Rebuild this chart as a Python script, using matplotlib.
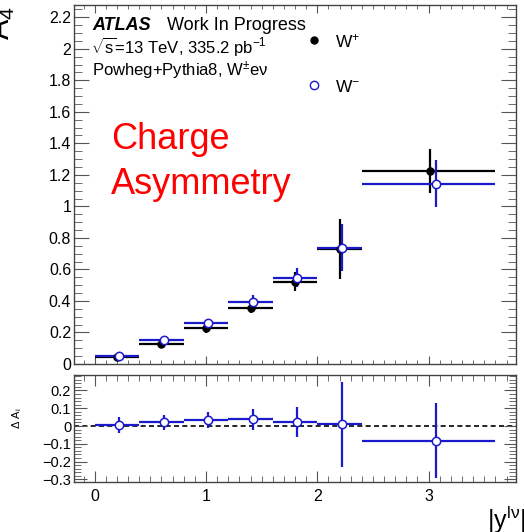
import numpy as np
import matplotlib
matplotlib.use("Agg")
import matplotlib.pyplot as plt
from matplotlib.ticker import MultipleLocator, FuncFormatter

plt.rcParams["font.family"] = ["Liberation Sans", "DejaVu Sans"]
plt.rcParams["mathtext.fontset"] = "custom"
plt.rcParams["mathtext.rm"] = "Liberation Sans"
plt.rcParams["mathtext.it"] = "Liberation Sans"

# bins in |y^lv|
bin_lo = np.array([0.0, 0.4, 0.8, 1.2, 1.6, 2.0, 2.4])
bin_hi = np.array([0.4, 0.8, 1.2, 1.6, 2.0, 2.4, 3.6])

# W+ (black)
x_wp = np.array([0.20, 0.60, 1.00, 1.40, 1.80, 2.20, 3.01])
a4_wp = np.array([0.045, 0.126, 0.227, 0.354, 0.523, 0.729, 1.223])
err_wp = np.array([0.02, 0.025, 0.03, 0.03, 0.058, 0.19, 0.14])

# W- (blue)
x_wm = np.array([0.22, 0.62, 1.02, 1.42, 1.82, 2.22, 3.07])
a4_wm = np.array([0.052, 0.151, 0.263, 0.396, 0.548, 0.738, 1.145])
err_wm = np.array([0.02, 0.02, 0.02, 0.04, 0.058, 0.15, 0.15])

# difference panel
dA = np.array([0.006, 0.020, 0.034, 0.037, 0.024, 0.009, -0.083])
err_dA = np.array([0.045, 0.04, 0.045, 0.058, 0.085, 0.24, 0.21])

BLUE = "#1a1acc"
W, H = 524, 532

def fx(p):
    return p / W

def fy(p):
    return 1 - p / H

def fmt(v, pos):
    if abs(v) < 1e-9:
        return "0"
    return f"{v:.10g}".replace("-", "\u2212")

fig = plt.figure(figsize=(W / 100, H / 100), dpi=100)
ax = fig.add_axes([fx(74), fy(364), fx(516) - fx(74), fy(5) - fy(364)])
ax2 = fig.add_axes([fx(74), fy(482), fx(516) - fx(74), fy(375) - fy(482)], sharex=ax)

def bars(a, x, y, ey, col, face):
    a.errorbar(x, y, xerr=[x - bin_lo, bin_hi - x], yerr=ey, fmt="none",
               ecolor=col, elinewidth=1.6, capsize=0, zorder=2)
    a.plot(x, y, "o", ms=5 if face == col else 6, mfc=face, mec=col, mew=1.1,
           zorder=3, ls="none")

bars(ax, x_wp, a4_wp, err_wp, "black", "black")
bars(ax, x_wm, a4_wm, err_wm, BLUE, "white")
bars(ax2, x_wm, dA, err_dA, BLUE, "white")
ax2.axhline(0, color="black", ls=(0, (3, 2)), lw=1.2, zorder=1)

ax.set_xlim(-0.186, 3.785)
ax.set_ylim(0, 2.278)
ax2.set_ylim(-0.315, 0.287)

ax.yaxis.set_major_locator(MultipleLocator(0.2))
ax.yaxis.set_minor_locator(MultipleLocator(0.05))
ax2.xaxis.set_major_locator(MultipleLocator(1))
ax2.xaxis.set_minor_locator(MultipleLocator(0.1))
ax2.yaxis.set_major_locator(MultipleLocator(0.1))
ax2.yaxis.set_minor_locator(MultipleLocator(0.02))

for a in (ax, ax2):
    for s in a.spines.values():
        s.set_color("#444444")
        s.set_linewidth(1.0)
    a.tick_params(which="both", direction="in", top=True, right=True,
                  color="#555555", labelsize=11.5, pad=2)
    a.yaxis.set_major_formatter(FuncFormatter(fmt))
    a.xaxis.set_major_formatter(FuncFormatter(fmt))
ax.tick_params(axis="y", which="major", length=11)
ax.tick_params(axis="y", which="minor", length=5.5)
ax.tick_params(axis="x", which="major", length=6)
ax.tick_params(axis="x", which="minor", length=3)
ax.tick_params(axis="x", labelbottom=False)
ax2.tick_params(axis="y", which="major", length=9, labelsize=10.5)
ax2.tick_params(axis="y", which="minor", length=5)
ax2.tick_params(axis="x", which="major", length=8, labelsize=11.5, pad=5)
ax2.tick_params(axis="x", which="minor", length=4)

# labels and annotations
fig.text(fx(92), fy(30), "ATLAS", fontsize=13, fontweight="bold",
         fontstyle="italic", va="baseline")
fig.text(fx(167), fy(30), "Work In Progress", fontsize=13, va="baseline")
fig.text(fx(91), fy(53), r"$\sqrt{\mathrm{s}}$=13 TeV, 335.2 pb$^{-1}$",
         fontsize=12, va="baseline")
fig.text(fx(92), fy(76), r"Powheg+Pythia8, W$^{\pm}$e$\nu$", fontsize=12,
         va="baseline")

fig.lines.append(plt.Line2D([fx(314)], [fy(40)], marker="o", ms=5, mfc="black",
                            mec="black", transform=fig.transFigure))
fig.text(fx(335), fy(47), "W$^{+}$", fontsize=12.5, va="baseline")
fig.lines.append(plt.Line2D([fx(314)], [fy(85)], marker="o", ms=6, mfc="white",
                            mec=BLUE, mew=1.0, transform=fig.transFigure))
fig.text(fx(335), fy(92), "W$^{-}$", fontsize=12.5, va="baseline")

fig.text(fx(111), fy(149), "Charge", fontsize=26, color="red", va="baseline")
fig.text(fx(111), fy(194), "Asymmetry", fontsize=26, color="red", va="baseline")

fig.text(fx(-14), fy(40), "A$_{4}$", fontsize=22, rotation=90, ha="left",
         va="bottom")
fig.text(fx(10), fy(418), r"$\Delta$ A$_{\mathrm{i}}$", fontsize=8,
         rotation=90, va="center", ha="left")
fig.text(fx(526), fy(529), r"$|\mathrm{y}^{\mathrm{l\nu}}|$", fontsize=18,
         ha="right", va="baseline")

fig.savefig("out.png", dpi=100)
